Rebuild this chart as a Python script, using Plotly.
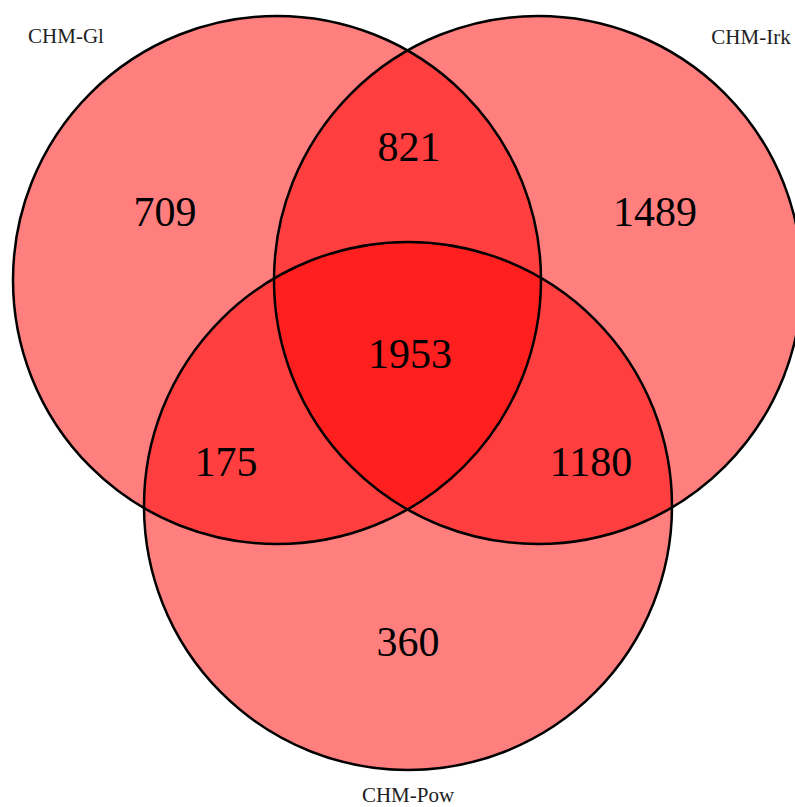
import plotly.graph_objects as go

# ---- data ----
set_names = ["CHM-Gl", "CHM-Irk", "CHM-Pow"]
region_labels = ["Gl only", "Gl&Irk", "Irk only", "Gl&Irk&Pow", "Gl&Pow", "Irk&Pow", "Pow only"]
region_counts = [709, 821, 1489, 1953, 175, 1180, 360]

# ---- geometry (pixel layout coordinates) ----
W, H = 795, 807
circle_cx = [277, 538, 408]
circle_cy = [280, 280, 506]
circle_r = [264, 264, 264]
region_x = [165, 409, 655, 410, 226, 591, 408]
region_y = [215, 150, 215, 357, 465, 465, 645]
name_x = [66, 751, 408]
name_y = [38, 39, 797]

fig = go.Figure()

shapes = []
for cx, cy, r in zip(circle_cx, circle_cy, circle_r):
    shapes.append(dict(type="circle", xref="x", yref="y",
                       x0=cx - r, x1=cx + r, y0=cy - r, y1=cy + r,
                       fillcolor="rgba(255,0,0,0.5)", line=dict(width=0),
                       layer="below"))
for cx, cy, r in zip(circle_cx, circle_cy, circle_r):
    shapes.append(dict(type="circle", xref="x", yref="y",
                       x0=cx - r, x1=cx + r, y0=cy - r, y1=cy + r,
                       fillcolor="rgba(0,0,0,0)", line=dict(color="black", width=2.5),
                       layer="below"))

fig.add_trace(go.Scatter(
    x=region_x, y=region_y, mode="text",
    text=[str(v) for v in region_counts],
    textfont=dict(family="Liberation Serif, Times New Roman, serif", size=42, color="black"),
    hovertext=region_labels, hoverinfo="text", showlegend=False))

fig.add_trace(go.Scatter(
    x=name_x, y=name_y, mode="text", text=set_names,
    textfont=dict(family="Liberation Serif, Times New Roman, serif", size=21, color="#222222"),
    hoverinfo="skip", showlegend=False))

fig.update_layout(
    width=W, height=H,
    margin=dict(l=0, r=0, t=0, b=0),
    paper_bgcolor="white", plot_bgcolor="white",
    shapes=shapes,
    xaxis=dict(range=[0, W], visible=False, fixedrange=True),
    yaxis=dict(range=[H, 0], visible=False, fixedrange=True),
)

fig.write_html("out.html", config={"displayModeBar": False},
               post_script="document.body.style.margin='0';document.body.style.overflow='hidden';")
